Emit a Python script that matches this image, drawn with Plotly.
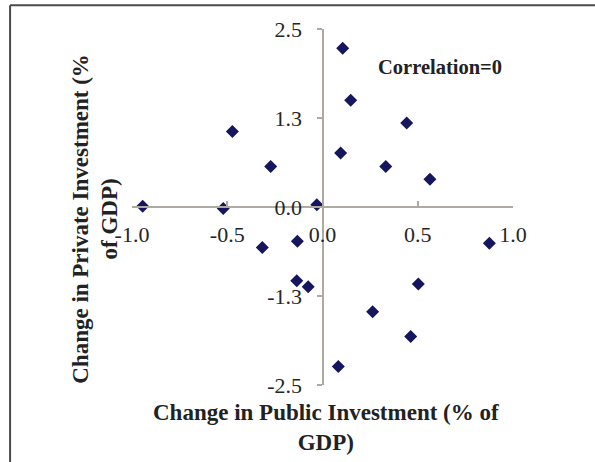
import plotly.graph_objects as go

# Data
public_change = [0.106, 0.148, 0.442, -0.473, 0.095, -0.272, 0.332, 0.564,
                 -0.944, -0.521, -0.030, -0.316, -0.132, 0.876, -0.135, -0.075,
                 0.503, 0.263, 0.463, 0.083]
private_change = [2.23, 1.50, 1.18, 1.06, 0.76, 0.57, 0.57, 0.39,
                  0.01, -0.02, 0.03, -0.57, -0.48, -0.51, -1.035, -1.12,
                  -1.08, -1.47, -1.82, -2.24]

x_tickvals = [-1.0, -0.5, 0.0, 0.5, 1.0]
x_ticktext = ["-1.0", "-0.5", "0.0", "0.5", "1.0"]
y_tickvals = [2.5, 1.25, 0.0, -1.25, -2.5]
y_ticktext = ["2.5", "1.3", "0.0", "-1.3", "-2.5"]

x_title = "Change in Public Investment (% of<br>GDP)"
y_title = "Change in Private Investment (%<br>of GDP)"
note = "Correlation=0"

FONT = "Liberation Serif, Times New Roman, serif"
AXIS_COLOR = "#aeaaa2"

fig = go.Figure(go.Scatter(
    x=public_change, y=private_change, mode="markers",
    marker=dict(symbol="diamond", size=10, color="#16165f"),
    showlegend=False, cliponaxis=False,
))

fig.update_layout(
    width=595, height=462,
    margin=dict(l=132, r=82, t=29, b=77),
    paper_bgcolor="white", plot_bgcolor="white",
    font=dict(family=FONT, color="#2a2a2a"),
    xaxis=dict(
        range=[-1, 1], anchor="free", position=0.5,
        showgrid=False, zeroline=False,
        showline=True, linecolor=AXIS_COLOR, linewidth=2,
        ticks="inside", ticklen=5, tickcolor=AXIS_COLOR, tickwidth=2,
        tickvals=x_tickvals, ticktext=x_ticktext,
        tickfont=dict(size=22, family=FONT, color="#262626"),
        ticklabelstandoff=8,
    ),
    yaxis=dict(
        range=[-2.5, 2.5], anchor="free", position=0.5,
        showgrid=False, zeroline=False,
        showline=True, linecolor=AXIS_COLOR, linewidth=2,
        ticks="outside", ticklen=5, tickcolor=AXIS_COLOR, tickwidth=2,
        tickvals=y_tickvals, ticktext=y_ticktext,
        tickfont=dict(size=22, family=FONT, color="#262626"),
        ticklabelstandoff=10,
    ),
    annotations=[
        dict(text="<b>" + x_title + "</b>", xref="paper", yref="paper",
             x=0.509, y=-0.118, xanchor="center", yanchor="middle",
             showarrow=False, font=dict(size=23, family=FONT, color="#222")),
        dict(text="<b>" + y_title + "</b>", xref="paper", yref="paper",
             x=-0.098, y=0.466, xanchor="center", yanchor="middle", textangle=-90,
             showarrow=False, font=dict(size=23, family=FONT, color="#222")),
        dict(text="<b>" + note + "</b>", xref="paper", yref="paper",
             x=0.64, y=0.893, xanchor="left", yanchor="middle",
             showarrow=False, font=dict(size=20.5, family=FONT, color="#222")),
    ],
    shapes=[
        dict(type="line", xref="paper", yref="paper", x0=-0.32, x1=1.3,
             y0=1.067, y1=1.067, line=dict(color="#4a4a4a", width=2)),
        dict(type="line", xref="paper", yref="paper", x0=-0.32, x1=-0.32,
             y0=1.067, y1=-0.3, line=dict(color="#4a4a4a", width=2)),
    ],
)

fig.write_html("out.html", config={"displayModeBar": False})

# remove the default page margin so the figure sits at the window origin
with open("out.html", encoding="utf-8") as f:
    html = f.read()
html = html.replace("<body>", '<body style="margin:0;overflow:hidden">', 1)
with open("out.html", "w", encoding="utf-8") as f:
    f.write(html)
